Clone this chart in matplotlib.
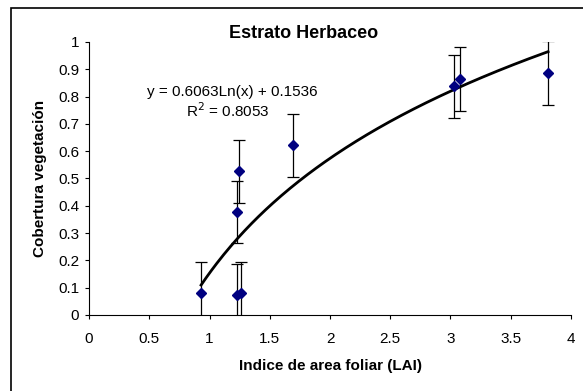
import numpy as np
import matplotlib.pyplot as plt
from matplotlib.patches import Rectangle

plt.rcParams['font.family'] = ['Liberation Sans', 'DejaVu Sans']

# LAI vs cobertura (estrato herbaceo)
lai = [0.93, 1.225, 1.23, 1.245, 1.26, 1.69, 3.03, 3.08, 3.81]
cobertura = [0.08, 0.073, 0.377, 0.527, 0.079, 0.622, 0.838, 0.865, 0.887]
error = [0.115, 0.115, 0.115, 0.115, 0.115, 0.115, 0.116, 0.116, 0.116]

# ajuste logaritmico
a, b = 0.6063, 0.1536
r2 = 0.8053

fig = plt.figure(figsize=(5.83, 3.91), dpi=100)
ax = fig.add_axes([0.1527, 0.1944, 0.8267, 0.6982])

# marco del grafico
fig.patches.append(Rectangle((11 / 583, -0.1), 1.2, 1 - 8 / 391 + 0.1,
                             transform=fig.transFigure, fill=False,
                             edgecolor='black', linewidth=1.2))

ax.errorbar(lai, cobertura, yerr=error, fmt='none', ecolor='black',
            elinewidth=0.9, capsize=4, capthick=0.9, zorder=2)
xs = np.linspace(min(lai), max(lai), 200)
ax.plot(xs, a * np.log(xs) + b, color='black', linewidth=2, zorder=3)
ax.plot(lai, cobertura, linestyle='none', marker='D', markersize=5,
        color='#000080', zorder=4)

ax.set_xlim(0, 4)
ax.set_ylim(0, 1)
ax.set_xticks(np.arange(0, 4.01, 0.5))
ax.set_xticklabels(['0', '0.5', '1', '1.5', '2', '2.5', '3', '3.5', '4'])
ax.set_yticks(np.arange(0, 1.01, 0.1))
ax.set_yticklabels(['0', '0.1', '0.2', '0.3', '0.4', '0.5', '0.6', '0.7',
                    '0.8', '0.9', '1'])
ax.tick_params(direction='out', length=3, width=0.8, labelsize=11)
ax.tick_params(axis='x', pad=9.5)
ax.tick_params(axis='y', pad=4)
for s in ['top', 'right']:
    ax.spines[s].set_visible(False)

ax.set_xlabel('Indice de area foliar (LAI)', fontsize=11, fontweight='bold',
              va='center')
ax.xaxis.set_label_coords(0.5, (315 - 366) / 273)
ax.set_ylabel('Cobertura vegetación', fontsize=11, fontweight='bold',
              va='center')
ax.yaxis.set_label_coords((40 - 89) / 482, 0.5)

fig.text(304 / 583, 1 - 33 / 391, 'Estrato Herbaceo', ha='center',
         va='center', fontsize=13, fontweight='bold')
fig.text(232 / 583, 1 - 92 / 391, f'y = {a:.4f}Ln(x) + {b:.4f}',
         ha='center', va='center', fontsize=11)
fig.text(228 / 583, 1 - 111 / 391, f'R$^2$ = {r2:.4f}',
         ha='center', va='center', fontsize=11)

fig.savefig('out.png', dpi=100)
